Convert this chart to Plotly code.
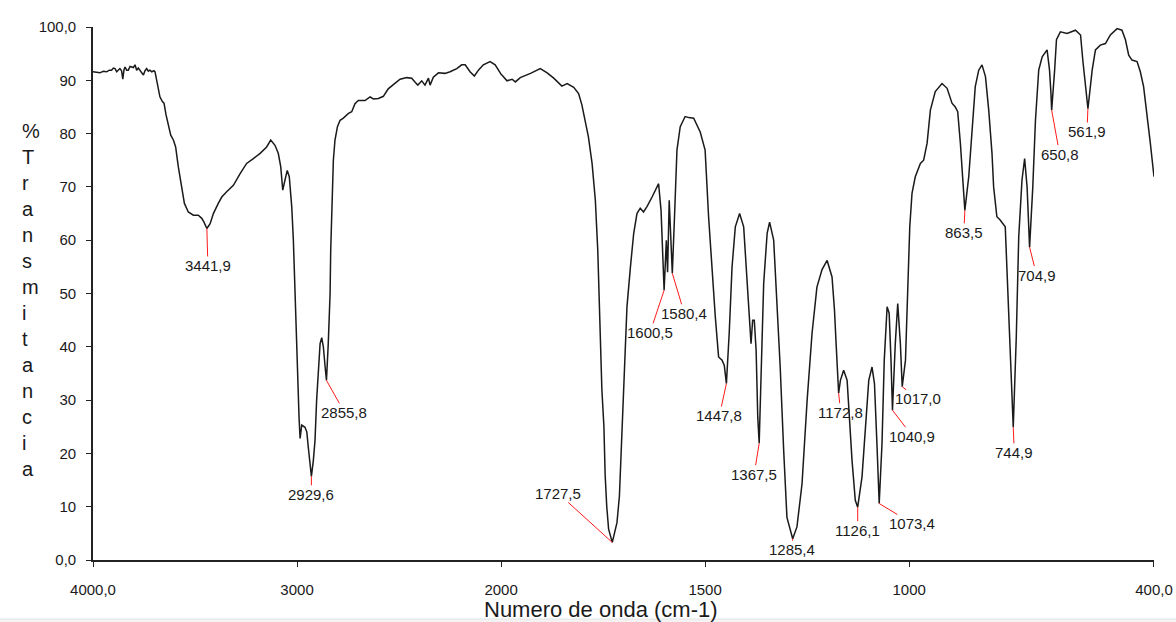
import numpy as np
import plotly.graph_objects as go

# ---------------- data ----------------
wavenumber = [
    4000, 3983, 3966, 3950, 3933, 3920, 3909, 3900, 3892, 3884, 3876, 3868, 3860, 3854, 3848,
    3843, 3835, 3827, 3818, 3810, 3802, 3794, 3786, 3778, 3770, 3762, 3753, 3745, 3737, 3729,
    3721, 3712, 3701, 3696, 3680, 3672, 3660, 3652, 3642, 3631, 3619, 3606, 3595, 3582, 3565,
    3552, 3533, 3508, 3484, 3467, 3456, 3441.9, 3426, 3410, 3386, 3369, 3345, 3312, 3279, 3247,
    3214, 3181, 3149, 3129, 3108, 3092, 3080, 3070, 3059, 3048, 3038, 3026, 3018, 3010, 2997,
    2990, 2985, 2977, 2961, 2952, 2945, 2936, 2929.6, 2920, 2912, 2904, 2896, 2887, 2879, 2871,
    2863, 2855.8, 2847, 2838, 2835, 2831, 2827, 2822, 2814, 2802, 2789, 2773, 2748, 2732, 2716,
    2700, 2667, 2642, 2626, 2601, 2577, 2553, 2528, 2495, 2462, 2438, 2420, 2408, 2389, 2373,
    2356, 2348, 2332, 2307, 2275, 2250, 2217, 2193, 2176, 2152, 2131, 2111, 2087, 2054, 2029,
    2005, 1998, 1985.5, 1973, 1965, 1953, 1928, 1904, 1887, 1871, 1851, 1838, 1822, 1810, 1802,
    1794, 1786, 1777, 1769, 1763, 1758, 1753, 1748, 1745, 1741, 1736.5, 1727.5, 1716, 1710, 1706,
    1702, 1699, 1691.5, 1683, 1675, 1667, 1659, 1651, 1642.5, 1630, 1614, 1608, 1603, 1600.5, 1595,
    1592, 1588, 1585, 1580.4, 1575, 1569, 1561, 1549, 1540, 1528, 1512, 1500, 1491.5, 1483, 1475,
    1467, 1458.5, 1453, 1447.8, 1441, 1434, 1426, 1415.5, 1405.5, 1397, 1392, 1387.5, 1383.5, 1379.5, 1375,
    1371, 1367.5, 1362, 1356.5, 1348, 1342, 1332, 1324, 1316, 1307.5, 1299.5, 1285.4, 1275, 1262.5, 1250,
    1238, 1226, 1213.5, 1201, 1189, 1183, 1179, 1172.8, 1168.5, 1160.5, 1152, 1146, 1140, 1132, 1126.1,
    1115.5, 1107.5, 1099, 1091, 1085, 1079, 1073.4, 1066.5, 1061, 1054, 1049, 1044.5, 1040.9, 1034, 1028,
    1021.5, 1017.0, 1009, 1003.5, 998.5, 993, 985, 972.5, 964.5, 956, 948, 936, 919.5, 907, 895,
    887, 881, 874.5, 866.5, 863.5, 854, 846, 838, 829.5, 821.5, 813, 805, 797, 793, 785,
    777, 764.5, 760, 752, 748, 744.9, 737.5, 731.5, 723.5, 717, 711, 707, 704.9, 697, 690.5,
    682.5, 674, 662, 656, 652.5, 650.8, 643.5, 639, 629.5, 613, 592.5, 580, 574.5, 568, 561.9,
    551.5, 543.5, 531.5, 519, 507, 490.5, 478.5, 470, 462, 454, 441.5, 433.5, 425.5, 417, 409,
    400,
]
transmittance = [
    91.6, 91.5, 91.4, 91.7, 91.6, 91.9, 91.9, 92.3, 92.2, 91.6, 92.0, 92.2, 91.8, 90.2, 92.0,
    92.5, 91.9, 91.9, 92.6, 92.5, 92.4, 92.9, 91.9, 92.3, 91.9, 91.4, 91.0, 91.8, 92.2, 91.7,
    91.9, 91.6, 91.8, 91.6, 88.8, 86.9, 86.0, 85.7, 83.5, 81.9, 79.7, 78.8, 77.5, 73.8, 70.0,
    66.9, 65.3, 64.7, 64.7, 64.1, 63.4, 62.2, 63.1, 65.0, 66.9, 68.1, 69.1, 70.3, 72.5, 74.4,
    75.3, 76.3, 77.5, 78.8, 77.8, 76.3, 73.8, 69.4, 71.3, 73.1, 71.9, 66.3, 60.0, 49.5, 34.0,
    26.6, 22.8, 25.3, 24.9, 24.0, 21.2, 17.7, 15.7, 18.7, 22.4, 30.0, 36.2, 40.6, 41.7, 40.0,
    36.5, 33.7, 40.6, 50.0, 58.0, 64.0, 70.0, 75.0, 78.8, 81.3, 82.5, 82.9, 83.8, 84.1, 85.6,
    86.2, 86.2, 86.9, 86.5, 86.6, 87.0, 88.4, 89.2, 90.2, 90.5, 90.4, 89.6, 89.1, 89.9, 89.1,
    90.4, 89.1, 90.6, 91.4, 91.3, 91.6, 92.2, 92.9, 92.9, 91.6, 90.8, 91.9, 92.9, 93.5, 92.9,
    91.5, 91.0, 89.9, 90.2, 89.7, 90.5, 91.3, 92.2, 91.4, 90.4, 88.9, 89.4, 88.7, 87.5, 85.4,
    82.5, 79.4, 74.4, 67.5, 58.0, 46.0, 32.0, 25.0, 16.0, 10.0, 5.8, 3.3, 7.0, 12.0, 20.0,
    28.0, 36.0, 47.5, 55.0, 61.3, 65.0, 66.0, 65.3, 66.3, 68.1, 70.6, 65.6, 53.1, 50.6, 60.0,
    54.0, 67.5, 62.5, 53.8, 64.4, 76.9, 81.3, 83.2, 83.0, 82.9, 80.3, 76.9, 64.4, 53.8, 45.6,
    38.1, 37.5, 36.5, 33.1, 42.5, 55.0, 62.5, 65.0, 62.5, 51.9, 45.6, 40.6, 45.0, 45.0, 39.3,
    26.8, 21.9, 36.2, 51.9, 61.3, 63.4, 60.0, 48.7, 36.2, 20.6, 8.0, 4.0, 6.2, 14.3, 30.0,
    42.5, 51.2, 54.5, 56.2, 53.1, 46.9, 40.6, 31.3, 33.7, 35.6, 33.7, 26.2, 18.7, 11.2, 9.9,
    15.6, 24.9, 33.7, 36.2, 33.1, 21.9, 10.6, 21.9, 37.5, 47.5, 46.3, 37.5, 28.1, 40.6, 48.1,
    40.6, 32.5, 37.5, 50.0, 62.5, 68.8, 71.9, 74.4, 75.0, 78.2, 84.4, 87.9, 89.4, 88.5, 85.7,
    85.0, 84.1, 78.2, 70.0, 65.6, 71.9, 81.3, 88.8, 91.9, 92.9, 90.7, 84.4, 76.3, 70.0, 64.4,
    63.8, 62.5, 54.0, 39.0, 29.4, 24.9, 41.8, 60.6, 71.3, 75.3, 70.0, 63.8, 58.7, 70.0, 82.5,
    91.9, 94.4, 95.7, 91.9, 87.5, 84.4, 91.9, 97.6, 99.1, 98.8, 99.4, 98.5, 93.8, 89.4, 84.7,
    91.9, 95.7, 96.6, 96.9, 98.5, 99.7, 99.4, 97.6, 94.7, 93.8, 93.5, 91.6, 88.8, 83.8, 78.2,
    71.9,
]

peak_labels = ["3441,9", "2929,6", "2855,8", "1727,5", "1600,5", "1580,4", "1447,8", "1367,5",
               "1285,4", "1172,8", "1126,1", "1073,4", "1040,9", "1017,0", "863,5", "744,9",
               "704,9", "650,8", "561,9"]
peak_wavenumbers = [3441.9, 2929.6, 2855.8, 1727.5, 1600.5, 1580.4, 1447.8, 1367.5,
                    1285.4, 1172.8, 1126.1, 1073.4, 1040.9, 1017.0, 863.5, 744.9,
                    704.9, 650.8, 561.9]

x_tick_values = [4000, 3000, 2000, 1500, 1000, 400]
x_tick_labels = ["4000,0", "3000", "2000", "1500", "1000", "400,0"]
y_tick_values = [0, 10, 20, 30, 40, 50, 60, 70, 80, 90, 100]
y_tick_labels = ["0,0", "10", "20", "30", "40", "50", "60", "70", "80", "90", "100,0"]

x_title = "Numero de onda (cm-1)"
y_title = "%Transmitancia"

# ---------------- layout settings ----------------
# label offsets (pixels, text centre relative to the peak)
label_offsets = {
    "3441,9": (1, 37), "2929,6": (0, 18), "2855,8": (18, 32), "1727,5": (-54, -49),
    "1600,5": (-14, 42), "1580,4": (12, 40), "1447,8": (-7, 32), "1367,5": (-5, 31),
    "1285,4": (-1, 11), "1172,8": (2, 19), "1126,1": (0, 23), "1073,4": (33, 20),
    "1040,9": (20, 26), "1017,0": (16, 12), "863,5": (-1, 22), "744,9": (1, 25),
    "704,9": (7, 28), "650,8": (8, 44), "561,9": (-1, 23),
}

SPLIT = 2000.0            # the instrument scale doubles below 2000 cm-1
W, H = 1176, 622
ML, MR, MT, MB = 93, 22, 27, 62
plot_w = W - ML - MR
plot_h = H - MT - MB
frac = (4000 - SPLIT) / ((4000 - SPLIT) + 2 * (SPLIT - 400))

NARROW = "Liberation Sans Narrow, Arial Narrow, Liberation Sans, Arial, sans-serif"
SANS = "Liberation Sans, Arial, sans-serif"
INK = "#1a1a1a"

wn = np.array(wavenumber, dtype=float)
tr = np.array(transmittance, dtype=float)
hi_idx = np.where(wn >= SPLIT)[0]
lo_idx = np.where(wn < SPLIT)[0]
seg1 = np.arange(0, hi_idx[-1] + 2)
seg2 = np.arange(lo_idx[0] - 1, len(wn))

fig = go.Figure()
fig.add_trace(go.Scatter(x=wn[seg1], y=tr[seg1], xaxis="x", yaxis="y", mode="lines",
                         line=dict(color=INK, width=1.5), hoverinfo="skip", showlegend=False))
fig.add_trace(go.Scatter(x=wn[seg2], y=tr[seg2], xaxis="x2", yaxis="y", mode="lines",
                         line=dict(color=INK, width=1.5), hoverinfo="skip", showlegend=False))

order = np.argsort(wn)
annotations = []
for lab, pw in zip(peak_labels, peak_wavenumbers):
    py = float(np.interp(pw, wn[order], tr[order]))
    ax, ay = label_offsets[lab]
    annotations.append(dict(
        x=pw, y=py, xref="x" if pw >= SPLIT else "x2", yref="y",
        text=lab, showarrow=True, arrowhead=0, arrowwidth=1, arrowcolor="#ff1a1a",
        ax=ax, ay=ay, standoff=0, startstandoff=0, borderpad=0,
        font=dict(family=NARROW, size=15, color=INK),
    ))

# vertical stacked y title
annotations.append(dict(
    x=(20 - ML) / plot_w, y=(H - MB - 300.5) / plot_h, xref="paper", yref="paper",
    xanchor="left", yanchor="middle", align="left", showarrow=False,
    text="<br>".join(list(y_title)),
    font=dict(family=SANS, size=20, color=INK),
))
# x title
annotations.append(dict(
    x=(600.5 - ML) / plot_w, y=(H - MB - 609) / plot_h, xref="paper", yref="paper",
    xanchor="center", yanchor="middle", showarrow=False, text=x_title,
    font=dict(family=SANS, size=22, color=INK),
))

axis_common = dict(showline=True, linecolor="#222222", linewidth=1.6, ticks="outside",
                   ticklen=5, tickwidth=1.2, tickcolor="#222222", showgrid=False, zeroline=False,
                   tickfont=dict(family=NARROW, size=15, color=INK),
                   automargin=False, fixedrange=True)

fig.update_layout(
    width=W, height=H, autosize=False,
    margin=dict(l=ML, r=MR, t=MT, b=MB, pad=0, autoexpand=False),
    paper_bgcolor="white", plot_bgcolor="white",
    xaxis=dict(domain=[0, frac], range=[4000, SPLIT], anchor="y",
               tickmode="array",
               tickvals=[v for v in x_tick_values if v > SPLIT],
               ticktext=[t for v, t in zip(x_tick_values, x_tick_labels) if v > SPLIT],
               ticklabelstandoff=10, **axis_common),
    xaxis2=dict(domain=[frac, 1], range=[SPLIT, 400], anchor="y",
                tickmode="array",
                tickvals=[v for v in x_tick_values if v <= SPLIT],
                ticktext=[t for v, t in zip(x_tick_values, x_tick_labels) if v <= SPLIT],
                ticklabelstandoff=10, **axis_common),
    yaxis=dict(range=[0, 100], anchor="x", tickmode="array",
               tickvals=y_tick_values, ticktext=y_tick_labels,
               ticklabelstandoff=7, **axis_common),
    annotations=annotations,
    shapes=[dict(type="rect", xref="paper", yref="paper",
                 x0=-ML / plot_w - 0.01, x1=1 + MR / plot_w + 0.01,
                 y0=(H - MB - 619) / plot_h, y1=(H - MB - 624) / plot_h,
                 fillcolor="#f3f3f3", line=dict(color="#e4e4e4", width=1), layer="below")],
)

fig.write_html("out.html", config={"displayModeBar": False})
